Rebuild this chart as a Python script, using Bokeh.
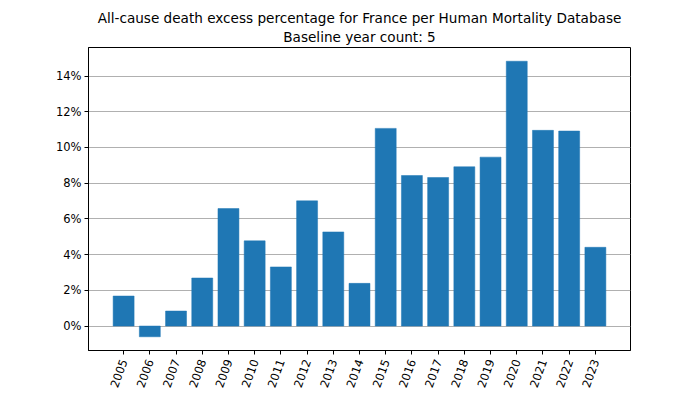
from bokeh.plotting import figure
from bokeh.models import FixedTicker, PrintfTickFormatter, Range1d, Title, ColumnDataSource
from bokeh.embed import file_html
from bokeh.resources import INLINE
import math

years = [2005, 2006, 2007, 2008, 2009, 2010, 2011, 2012, 2013, 2014,
         2015, 2016, 2017, 2018, 2019, 2020, 2021, 2022, 2023]
excess_pct = [1.68, -0.60, 0.84, 2.69, 6.58, 4.77, 3.31, 7.01, 5.27, 2.39,
              11.07, 8.43, 8.32, 8.92, 9.46, 14.83, 10.96, 10.92, 4.41]
y_ticks = [0, 2, 4, 6, 8, 10, 12, 14]
title_text = "All-cause death excess percentage for France per Human Mortality Database"
subtitle_text = "Baseline year count: 5"

FONT = "DejaVu Sans"

p = figure(frame_width=542, frame_height=303, output_backend="svg", toolbar_location=None,
           x_range=Range1d(2003.66, 2024.34), y_range=Range1d(-1.37, 15.6),
           title=None, min_border_left=88, min_border_right=54,
           min_border_top=0, min_border_bottom=0)

sub = Title(text=subtitle_text, align="center", text_font=FONT, text_font_size="13.6px",
            text_font_style="normal", text_color="black", standoff=5)
main = Title(text=title_text, align="center", text_font=FONT, text_font_size="13.6px",
             text_font_style="normal", text_color="black", standoff=-3)
spacer = Title(text=" ", text_font_size="7px", standoff=0)
p.add_layout(sub, "above")
p.add_layout(main, "above")
p.add_layout(spacer, "above")

src = ColumnDataSource(dict(x=years, top=excess_pct))
p.vbar(x="x", top="top", bottom=0, width=0.8, source=src,
       fill_color="#1f77b4", line_color="#1f77b4", line_width=0.5)

p.xgrid.visible = False
p.ygrid.ticker = FixedTicker(ticks=y_ticks)
p.ygrid.grid_line_color = "#b0b0b0"
p.ygrid.grid_line_width = 1

p.yaxis.ticker = FixedTicker(ticks=y_ticks)
p.yaxis.formatter = PrintfTickFormatter(format="%d%%")
p.xaxis.ticker = FixedTicker(ticks=years)
p.xaxis.major_label_orientation = math.radians(70)

for ax in (p.xaxis, p.yaxis):
    ax.axis_line_color = "black"
    ax.major_tick_line_color = "black"
    ax.major_tick_out = 4
    ax.major_tick_in = 0
    ax.minor_tick_line_color = None
    ax.major_label_text_font = FONT
    ax.major_label_text_font_size = "11.5px"
    ax.major_label_text_color = "black"
    ax.major_label_standoff = 3
p.xaxis.major_label_standoff = 5

p.outline_line_color = "black"
p.outline_line_alpha = 1
p.outline_line_width = 1

open("out.html", "w").write(file_html(p, INLINE))
